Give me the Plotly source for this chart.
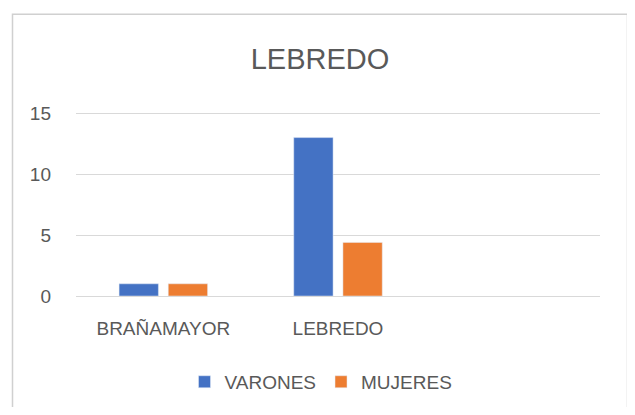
import plotly.graph_objects as go

categories = ["BRAÑAMAYOR", "LEBREDO"]
varones = [1, 13]
mujeres = [1, 4.4]
y_ticks = [0, 5, 10, 15]

OFF = 8  # page body margin
W, H = 635 - OFF, 415 - 2 * OFF
L, R, B = 76 - OFF, 600 - OFF, 296 - OFF
YMAX = 15.1
T = B - 183 * YMAX / 15
pw, ph = R - L, B - T

def px_x(x):
    return (x - OFF - L) / pw

def px_y(y):
    return (B - (y - OFF)) / ph

FONT = "Liberation Sans"
GRAY = "#595959"

fig = go.Figure()
fig.add_trace(go.Bar(name="VARONES", x=categories, y=varones, marker_color="#4472C4"))
fig.add_trace(go.Bar(name="MUJERES", x=categories, y=mujeres, marker_color="#ED7D31"))

fig.update_layout(
    width=W, height=H,
    margin=dict(l=L, r=W - R, t=T, b=H - B, autoexpand=False),
    paper_bgcolor="white", plot_bgcolor="white",
    barmode="group", bargap=0.437, bargroupgap=0.2,
    font=dict(family=FONT, color=GRAY, size=19),
    title=dict(text="LEBREDO", x=(320 - OFF) / W, y=1 - (59 - OFF) / H, xref="container", yref="container",
               xanchor="center", yanchor="middle", font=dict(size=29, color=GRAY, family=FONT)),
    legend=dict(orientation="h", x=px_x(321), y=px_y(382), xanchor="center", yanchor="middle",
                font=dict(size=19, color=GRAY), itemwidth=30, bgcolor="rgba(0,0,0,0)"),
    showlegend=True,
)
fig.update_xaxes(type="category", range=[-0.5, 2.5], showgrid=False, zeroline=False,
                 showline=False, ticks="", ticklabelstandoff=19,
                 tickfont=dict(size=19, color=GRAY))
fig.update_yaxes(range=[0, YMAX], tickvals=y_ticks, showgrid=True, gridcolor="#D9D9D9",
                 gridwidth=1, zeroline=True, zerolinecolor="#D9D9D9", zerolinewidth=1,
                 showline=False, ticks="", ticklabelstandoff=24,
                 tickfont=dict(size=19, color=GRAY))

fig.add_shape(type="rect", xref="paper", yref="paper",
              x0=px_x(12.5), x1=px_x(627.5), y0=px_y(440), y1=px_y(14),
              line=dict(color="#D0D0D0", width=1.5), fillcolor="rgba(0,0,0,0)", layer="above")

fig.write_html("out.html")
